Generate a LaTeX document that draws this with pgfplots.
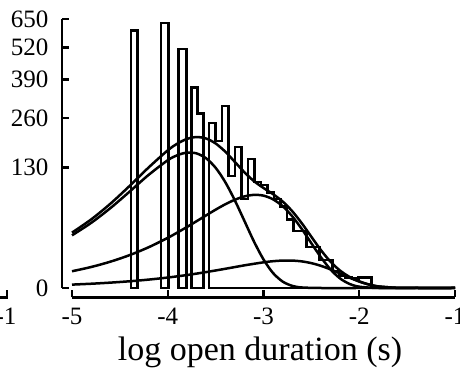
\documentclass[border=0pt]{standalone}
\usepackage{fontspec}
\setmainfont{Liberation Serif}
\usepackage{pgfplots}
\pgfplotsset{compat=1.18}
\begin{document}
\begin{tikzpicture}
\useasboundingbox (-72pt,-83pt) rectangle (388pt,288pt);
\begin{axis}[
  at={(0pt,0pt)}, anchor=south west,
  scale only axis, width=383pt, height=269pt,
  xmin=-5, xmax=-1, ymin=0, ymax=650,
  y coord trafo/.code={\pgfmathparse{sqrt(#1)}},
  y coord inv trafo/.code={\pgfmathparse{(#1)^2}},
  axis lines=left,
  axis line style={-, line width=2.4pt},
  axis x line shift=9.5pt,
  axis y line shift=10pt,
  xtick={-5,-4,-3,-2,-1}, xticklabels={-5,-4,-3,-2,-1},
  ytick={0,130,260,390,520,650}, yticklabels={0,130,260,390,520,650},
  tick style={line width=2.4pt, black},
  major tick length=7pt,
  tick align=inside,
  ticklabel style={font=\fontsize{25}{27}\selectfont},
  xticklabel style={yshift=-7pt},
  yticklabel style={xshift=-10pt},
  xlabel={log open duration (s)},
  xlabel style={font=\fontsize{34}{36}\selectfont, at={(axis description cs:0.491,0)}, anchor=base, yshift=-73pt},
  clip=false,
  every axis plot/.append style={line width=2.5pt, black},
]
% histogram outline (counts per bin; each point = right edge of bin with its count)
\addplot[const plot mark right, fill=none] coordinates {(-4.384,0) (-4.314,595) (-4.314,0)} \closedcycle;
\addplot[const plot mark right, fill=none] coordinates {(-4.070,0) (-3.990,630) (-3.990,0)} \closedcycle;
\addplot[const plot mark right, fill=none] coordinates {(-3.886,0) (-3.806,513) (-3.806,0)} \closedcycle;
\addplot[const plot mark right, fill=none] coordinates {(-3.754,0) (-3.691,362) (-3.625,274) (-3.625,0)} \closedcycle;
\addplot[const plot mark right, fill=none] coordinates {
(-3.569,0) (-3.501,244) (-3.433,194) (-3.365,298) (-3.297,113) (-3.230,179) (-3.162,71)
(-3.094,149) (-3.026,101) (-2.958,95) (-2.890,82) (-2.822,71) (-2.754,60)
(-2.686,42) (-2.618,29) (-2.551,29) (-2.483,15) (-2.415,15) (-2.347,7)
(-2.279,7) (-2.211,2.6) (-2.143,1.3) (-2.075,1.0) (-2.008,0.85) (-1.940,1.0)
(-1.872,1.0) (-1.872,0)} \closedcycle;
% component 1
\addplot[smooth] coordinates {
(-5,24.9) (-4.8,38.1) (-4.6,57.2) (-4.4,83.2) (-4.2,114.9) (-4.0,146.6) (-3.9,158.4)
(-3.8,164.6) (-3.7,162.8) (-3.6,151.2) (-3.5,129.8) (-3.4,100.9) (-3.3,69.2) (-3.2,40.6)
(-3.1,19.5) (-3.0,7.32) (-2.9,2.01) (-2.8,0.371) (-2.7,0.041) (-2.6,0.0025) (-2.4,0)
(-2.0,0) (-1.5,0) (-1,0)};
% component 2
\addplot[smooth] coordinates {
(-5,2.52) (-4.8,3.96) (-4.6,6.21) (-4.4,9.67) (-4.2,14.9) (-4.0,22.6) (-3.9,27.6)
(-3.8,33.4) (-3.7,40.0) (-3.6,47.3) (-3.5,55.1) (-3.4,62.9) (-3.3,69.9) (-3.2,75.3)
(-3.1,77.9) (-3.0,76.6) (-2.9,70.6) (-2.8,60.1) (-2.7,46.2) (-2.6,31.3) (-2.5,18.0)
(-2.4,8.47) (-2.3,3.09) (-2.2,0.817) (-2.1,0.144) (-2.0,0.0153) (-1.8,0) (-1.4,0) (-1,0)};
% component 3
\addplot[smooth] coordinates {
(-5,0.103) (-4.8,0.163) (-4.6,0.258) (-4.4,0.405) (-4.2,0.633) (-4.0,0.983) (-3.8,1.507)
(-3.6,2.27) (-3.4,3.31) (-3.2,4.60) (-3.0,5.92) (-2.9,6.45) (-2.8,6.76) (-2.7,6.75)
(-2.6,6.36) (-2.5,5.55) (-2.4,4.41) (-2.3,3.11) (-2.2,1.89) (-2.1,0.948) (-2.0,0.376)
(-1.9,0.110) (-1.8,0.0222) (-1.6,0.0002) (-1.4,0) (-1,0)};
% total fit
\addplot[smooth] coordinates {
(-5,27.52) (-4.8,42.22) (-4.6,63.67) (-4.4,93.28) (-4.2,130.43) (-4.0,170.18) (-3.9,187.22)
(-3.8,199.51) (-3.7,204.65) (-3.6,200.77) (-3.5,187.65) (-3.4,167.11) (-3.3,143.03)
(-3.2,120.5) (-3.1,102.68) (-3.0,89.84) (-2.9,79.06) (-2.8,67.23) (-2.7,52.99)
(-2.6,37.66) (-2.5,23.55) (-2.4,12.88) (-2.3,6.2) (-2.2,2.71) (-2.1,1.09) (-2.0,0.39)
(-1.9,0.11) (-1.8,0.022) (-1.6,0.0002) (-1.4,0) (-1,0)};
\end{axis}
% fragment of the neighbouring panel's axis at the left edge
\draw[line width=2.4pt] (-73pt,-9.5pt) -- (-65pt,-9.5pt) -- (-65pt,-2pt);
\node[font=\fontsize{25}{27}\selectfont, anchor=north] at (-66pt,-16.5pt) {-1};
\end{tikzpicture}
\end{document}
